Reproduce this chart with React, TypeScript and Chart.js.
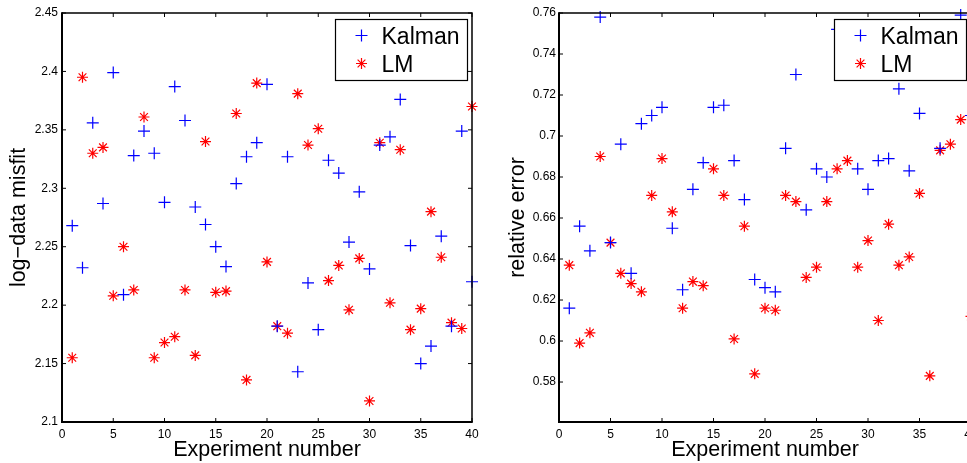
import React, { useEffect, useRef } from "react";
import { Chart, registerables } from "chart.js";

Chart.register(...registerables);

const FONT = "'Liberation Sans', Arial, Helvetica, sans-serif";

// Experiment numbers (x values)
const experimentNumbers = [
  1, 2, 3, 4, 5, 6, 7, 8, 9, 10, 11, 12, 13, 14, 15, 16, 17, 18, 19, 20,
  21, 22, 23, 24, 25, 26, 27, 28, 29, 30, 31, 32, 33, 34, 35, 36, 37, 38, 39, 40,
];

// Left panel: log-data misfit
const misfitKalman = [
  2.268, 2.232, 2.356, 2.287, 2.399, 2.209, 2.328, 2.349, 2.33, 2.288,
  2.387, 2.358, 2.284, 2.269, 2.25, 2.233, 2.304, 2.327, 2.339, 2.389,
  2.182, 2.327, 2.143, 2.219, 2.179, 2.324, 2.313, 2.254, 2.297, 2.231,
  2.337, 2.344, 2.376, 2.251, 2.15, 2.165, 2.259, 2.182, 2.349, 2.22,
];
const misfitLM = [
  2.155, 2.395, 2.33, 2.335, 2.208, 2.25, 2.213, 2.361, 2.155, 2.168,
  2.173, 2.213, 2.157, 2.34, 2.211, 2.212, 2.364, 2.136, 2.39, 2.237,
  2.182, 2.176, 2.381, 2.337, 2.351, 2.221, 2.234, 2.196, 2.24, 2.118,
  2.339, 2.202, 2.333, 2.179, 2.197, 2.28, 2.241, 2.185, 2.18, 2.37,
];

// Right panel: relative error
const errorKalman = [
  0.616, 0.656, 0.644, 0.758, 0.648, 0.696, 0.633, 0.706, 0.71, 0.714,
  0.655, 0.625, 0.674, 0.687, 0.714, 0.715, 0.688, 0.669, 0.63, 0.626,
  0.624, 0.694, 0.73, 0.664, 0.684, 0.68, 0.752, 0.742, 0.684, 0.674,
  0.688, 0.689, 0.723, 0.683, 0.711, 0.748, 0.694, 0.74, 0.759, 0.71,
];
const errorLM = [
  0.637, 0.599, 0.604, 0.69, 0.648, 0.633, 0.628, 0.624, 0.671, 0.689,
  0.663, 0.616, 0.629, 0.627, 0.684, 0.671, 0.601, 0.656, 0.584, 0.616,
  0.615, 0.671, 0.668, 0.631, 0.636, 0.668, 0.684, 0.688, 0.636, 0.649,
  0.61, 0.657, 0.637, 0.641, 0.672, 0.583, 0.693, 0.696, 0.708, 0.612,
];

// Tick values
const xTickValues = [0, 5, 10, 15, 20, 25, 30, 35, 40];
const misfitTickValues = [2.1, 2.15, 2.2, 2.25, 2.3, 2.35, 2.4, 2.45];
const errorTickValues = [0.58, 0.6, 0.62, 0.64, 0.66, 0.68, 0.7, 0.72, 0.74, 0.76];

const seriesNames = ["Kalman", "LM"];
const seriesColors = ["#0000ff", "#ff0000"];
const seriesStyles = ["cross", "star"];
const seriesRadii = [6, 5.5];
const xTitle = "Experiment number";

function fmt(v: number) {
  return String(Number(Number(v).toFixed(4)));
}

function drawMarker(ctx: CanvasRenderingContext2D, style: string, x: number, y: number, r: number) {
  ctx.beginPath();
  ctx.moveTo(x - r, y);
  ctx.lineTo(x + r, y);
  ctx.moveTo(x, y - r);
  ctx.lineTo(x, y + r);
  if (style === "star") {
    const d = r * Math.SQRT1_2;
    ctx.moveTo(x - d, y - d);
    ctx.lineTo(x + d, y + d);
    ctx.moveTo(x - d, y + d);
    ctx.lineTo(x + d, y - d);
  }
  ctx.stroke();
}

const framePlugin = {
  id: "matlabFrame",
  afterDraw(chart: any) {
    const { ctx, chartArea: a, scales } = chart;
    const xs = scales.x;
    const ys = scales.y;
    const tl = 4;
    ctx.save();
    ctx.strokeStyle = "#000";
    ctx.lineWidth = 1;
    ctx.beginPath();
    for (const t of xs.ticks) {
      const px = xs.getPixelForValue(t.value);
      ctx.moveTo(px, a.bottom);
      ctx.lineTo(px, a.bottom - tl);
      ctx.moveTo(px, a.top);
      ctx.lineTo(px, a.top + tl);
    }
    for (const t of ys.ticks) {
      const py = ys.getPixelForValue(t.value);
      ctx.moveTo(a.left, py);
      ctx.lineTo(a.left + tl, py);
      ctx.moveTo(a.right, py);
      ctx.lineTo(a.right - tl, py);
    }
    ctx.stroke();
    // top & right borders
    ctx.lineWidth = 1.5;
    ctx.beginPath();
    ctx.moveTo(a.left, a.top);
    ctx.lineTo(a.right, a.top);
    ctx.lineTo(a.right, a.bottom);
    ctx.stroke();
    // left & bottom borders (heavier)
    ctx.lineWidth = 2;
    ctx.beginPath();
    ctx.moveTo(a.left, a.top - 0.75);
    ctx.lineTo(a.left, a.bottom);
    ctx.lineTo(a.right + 0.75, a.bottom);
    ctx.stroke();
    ctx.restore();
  },
};

const boxLegendPlugin = {
  id: "boxLegend",
  afterDraw(chart: any) {
    const { ctx, chartArea: a } = chart;
    const w = 132;
    const h = 61;
    const x0 = Math.round(a.right - 5.5 - w) + 0.5;
    const y0 = Math.round(a.top + 5.5) + 0.5;
    ctx.save();
    ctx.fillStyle = "#fff";
    ctx.fillRect(x0, y0, w, h);
    ctx.strokeStyle = "#000";
    ctx.lineWidth = 1.2;
    ctx.strokeRect(x0, y0, w, h);
    ctx.font = `23px ${FONT}`;
    ctx.textAlign = "left";
    ctx.textBaseline = "alphabetic";
    chart.data.datasets.forEach((ds: any, i: number) => {
      const ry = Math.round(y0 + 15 + i * 28.4) + 0.5;
      const mx = Math.round(x0 + 25) + 0.5;
      ctx.strokeStyle = seriesColors[i];
      ctx.lineWidth = 1.2;
      drawMarker(ctx, seriesStyles[i], mx, ry, seriesRadii[i]);
      ctx.fillStyle = "#000";
      ctx.fillText(ds.label, x0 + 46, ry + 8.5);
    });
    ctx.restore();
  },
};

function buildConfig(p: {
  kalman: number[];
  lm: number[];
  yMin: number;
  yMax: number;
  yTicks: number[];
  yTitle: string;
  yAxisWidth: number;
  yTitlePad: number;
  yTickPad: number;
  padRight: number;
}): any {
  const series = [p.kalman, p.lm];
  return {
    type: "scatter",
    data: {
      datasets: series.map((vals, s) => ({
        label: seriesNames[s],
        data: experimentNumbers.map((x, i) => ({ x, y: vals[i] })),
        pointStyle: seriesStyles[s],
        pointRadius: seriesRadii[s],
        pointHoverRadius: seriesRadii[s],
        borderColor: seriesColors[s],
        backgroundColor: seriesColors[s],
        borderWidth: 1.2,
        pointBorderWidth: 1.2,
        clip: false,
      })),
    },
    options: {
      responsive: false,
      animation: false,
      events: [],
      layout: { padding: { top: 13, bottom: 0, left: 0, right: p.padRight } },
      plugins: {
        legend: { display: false },
        tooltip: { enabled: false },
        title: { display: false },
      },
      scales: {
        x: {
          type: "linear",
          min: 0,
          max: 40,
          afterBuildTicks: (s: any) => {
            s.ticks = xTickValues.map((v) => ({ value: v }));
          },
          afterFit: (s: any) => {
            s.height = 41;
          },
          grid: { display: false, drawTicks: false },
          border: { display: false },
          ticks: {
            autoSkip: false,
            maxRotation: 0,
            padding: 5,
            color: "#000",
            font: { family: FONT, size: 12 },
            callback: (v: number) => fmt(v),
          },
          title: {
            display: true,
            text: xTitle,
            color: "#000",
            font: { family: FONT, size: 21.5 },
            padding: { top: 0, bottom: 0 },
          },
        },
        y: {
          type: "linear",
          min: p.yMin,
          max: p.yMax,
          afterBuildTicks: (s: any) => {
            s.ticks = p.yTicks.map((v) => ({ value: v }));
          },
          afterFit: (s: any) => {
            s.width = p.yAxisWidth;
          },
          grid: { display: false, drawTicks: false },
          border: { display: false },
          ticks: {
            autoSkip: false,
            padding: p.yTickPad,
            color: "#000",
            font: { family: FONT, size: 12 },
            callback: (v: number) => fmt(v),
          },
          title: {
            display: true,
            text: p.yTitle,
            color: "#000",
            font: { family: FONT, size: 21.5 },
            padding: { top: p.yTitlePad, bottom: 0 },
          },
        },
      },
    },
    plugins: [framePlugin, boxLegendPlugin],
  };
}

export default function App() {
  const leftRef = useRef<HTMLCanvasElement | null>(null);
  const rightRef = useRef<HTMLCanvasElement | null>(null);

  useEffect(() => {
    const left = new Chart(
      leftRef.current as HTMLCanvasElement,
      buildConfig({
        kalman: misfitKalman,
        lm: misfitLM,
        yMin: 2.1,
        yMax: 2.45,
        yTicks: misfitTickValues,
        yTitle: "log\u2212data misfit",
        yAxisWidth: 62,
        yTitlePad: 6,
        yTickPad: 4,
        padRight: 18,
      })
    );
    const right = new Chart(
      rightRef.current as HTMLCanvasElement,
      buildConfig({
        kalman: errorKalman,
        lm: errorLM,
        yMin: 0.5605,
        yMax: 0.76,
        yTicks: errorTickValues,
        yTitle: "relative error",
        yAxisWidth: 69,
        yTitlePad: 15,
        yTickPad: 3,
        padRight: 19,
      })
    );
    return () => {
      left.destroy();
      right.destroy();
    };
  }, []);

  return (
    <div
      style={{
        position: "absolute",
        left: 0,
        top: 0,
        width: 967,
        height: 463,
        overflow: "hidden",
        background: "#fff",
      }}
    >
      <canvas
        ref={leftRef}
        width={490}
        height={463}
        style={{ position: "absolute", left: 0, top: 0, width: 490, height: 463 }}
      />
      <canvas
        ref={rightRef}
        width={500}
        height={463}
        style={{ position: "absolute", left: 490, top: 0, width: 500, height: 463 }}
      />
    </div>
  );
}
